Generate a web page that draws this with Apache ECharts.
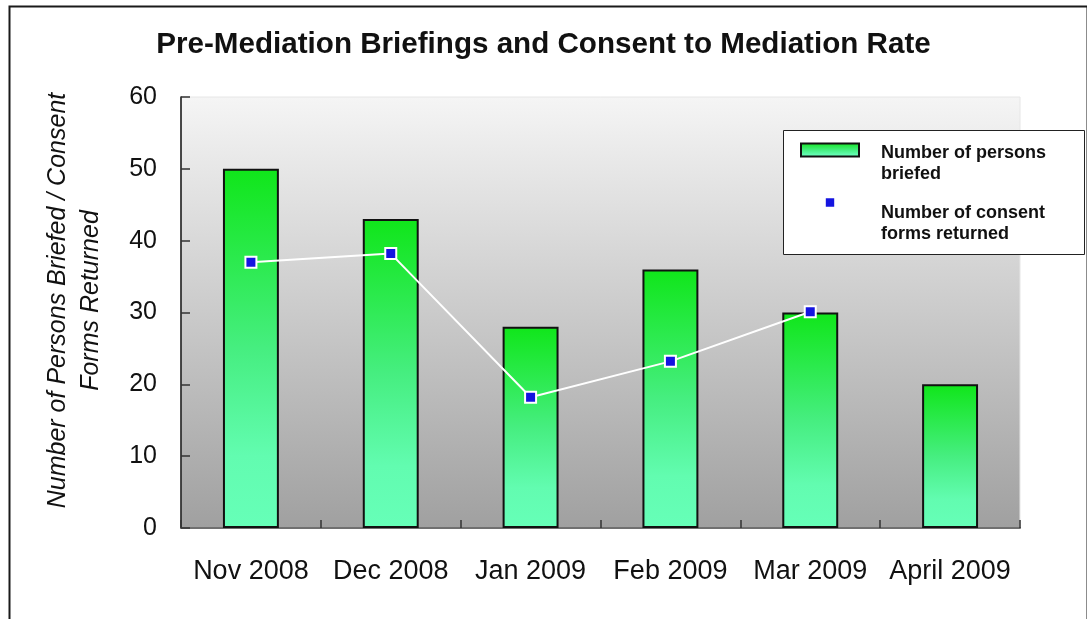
<!DOCTYPE html>
<html>
<head>
<meta charset="utf-8">
<script src="https://cdn.jsdelivr.net/npm/echarts@6/dist/echarts.min.js"></script>
<style>
  html, body { margin: 0; padding: 0; background: #ffffff; }
  #chart { width: 1087px; height: 619px; }
</style>
</head>
<body>
<div id="chart"></div>
<script>
// Months covered by the briefing programme
const months = ['Nov 2008', 'Dec 2008', 'Jan 2009', 'Feb 2009', 'Mar 2009', 'April 2009'];
// Persons briefed each month
const personsBriefed = [50, 43, 28, 36, 30, 20];
// Consent forms returned each month (no figure for April)
const consentForms = [37, 38.2, 18.2, 23.2, 30.1, null];
// Value axis ticks
const yMin = 0, yMax = 60, yStep = 10;

const seriesBriefed = 'Number of persons briefed';
const seriesConsent = 'Number of consent forms returned';
// Legend labels; the leading spacer line drops the text below its key symbol
const legendText = {};
legendText[seriesBriefed] = '{s1| }\n{t|Number of persons}\n{t|briefed}';
legendText[seriesConsent] = '{s2| }\n{t|Number of consent}\n{t|forms returned}';

const FONT = 'Liberation Sans, Arial, sans-serif';

const chart = echarts.init(document.getElementById('chart'), null, { renderer: 'canvas' });

chart.setOption({
  animation: false,
  backgroundColor: '#ffffff',
  textStyle: { fontFamily: FONT },
  graphic: [
    {
      // outer frame
      type: 'rect',
      left: 7, top: 4,
      shape: { width: 1078, height: 700 },
      style: { fill: 'none', stroke: '#1a1a1a', lineWidth: 2 },
      silent: true,
      z: -10
    },
    {
      // legend box
      type: 'rect',
      left: 783, top: 130,
      shape: { width: 301, height: 124 },
      style: { fill: '#ffffff', stroke: '#222222', lineWidth: 1 },
      silent: true,
      z: 5
    }
  ],
  title: {
    text: 'Pre-Mediation Briefings and Consent to Mediation Rate',
    left: 'center',
    top: 25,
    textStyle: { fontFamily: FONT, fontSize: 29.6, fontWeight: 'bold', color: '#111111' }
  },
  legend: {
    orient: 'vertical',
    left: 800, top: 124,
    padding: 0,
    itemGap: -7,
    itemWidth: 58,
    itemHeight: 13,
    z: 6,
    data: [
      { name: seriesBriefed, icon: 'rect' },
      { name: seriesConsent }
    ],
    formatter: function (name) { return legendText[name]; },
    textStyle: {
      fontFamily: FONT, fontSize: 18, fontWeight: 'bold', color: '#111111',
      padding: [0, 0, 0, 17],
      rich: {
        s1: { fontSize: 10, lineHeight: 28 },
        s2: { fontSize: 10, lineHeight: 42 },
        t: { fontFamily: FONT, fontSize: 18, fontWeight: 'bold', color: '#111111', lineHeight: 21 }
      }
    }
  },
  grid: {
    left: 181, right: 67, top: 97, bottom: 91,
    show: true,
    borderColor: '#e6e6e6',
    borderWidth: 1,
    backgroundColor: {
      type: 'linear', x: 0, y: 0, x2: 0, y2: 1,
      colorStops: [
        { offset: 0, color: '#f5f5f5' },
        { offset: 1, color: '#a0a0a0' }
      ]
    }
  },
  xAxis: {
    type: 'category',
    data: months,
    axisLine: { lineStyle: { color: '#707070', width: 2 } },
    axisTick: { show: true, inside: true, length: 8, lineStyle: { color: '#333333', width: 1.5 } },
    axisLabel: { interval: 0, margin: 30, fontSize: 27, color: '#111111', fontFamily: FONT },
    splitLine: { show: false }
  },
  yAxis: {
    type: 'value',
    min: yMin, max: yMax, interval: yStep,
    name: 'Number of Persons Briefed / Consent\nForms Returned',
    nameLocation: 'middle',
    nameGap: 73,
    nameTextStyle: {
      fontFamily: FONT, fontSize: 25, fontStyle: 'italic', color: '#111111',
      lineHeight: 33,
      padding: [0, 0, 0, 24]
    },
    axisLine: { show: true, lineStyle: { color: '#111111', width: 1.5 } },
    axisTick: { show: true, inside: true, length: 9, lineStyle: { color: '#333333', width: 1.5 } },
    axisLabel: { margin: 24, fontSize: 25, color: '#111111', fontFamily: FONT },
    splitLine: { show: false }
  },
  series: [
    {
      name: seriesBriefed,
      type: 'bar',
      data: personsBriefed,
      barWidth: '40%',
      itemStyle: {
        borderColor: '#111111',
        borderWidth: 2,
        color: {
          type: 'linear', x: 0, y: 0, x2: 0, y2: 1,
          colorStops: [
            { offset: 0, color: '#10e61a' },
            { offset: 0.5, color: '#46ee80' },
            { offset: 0.8, color: '#62fcb0' },
            { offset: 1, color: '#66ffb8' }
          ]
        }
      },
      z: 2
    },
    {
      name: seriesConsent,
      type: 'line',
      data: consentForms,
      symbol: 'rect',
      symbolSize: 11,
      connectNulls: false,
      lineStyle: { color: '#ffffff', width: 2 },
      itemStyle: { color: '#1414e0', borderColor: '#ffffff', borderWidth: 2 },
      z: 3
    }
  ]
});
</script>
</body>
</html>
